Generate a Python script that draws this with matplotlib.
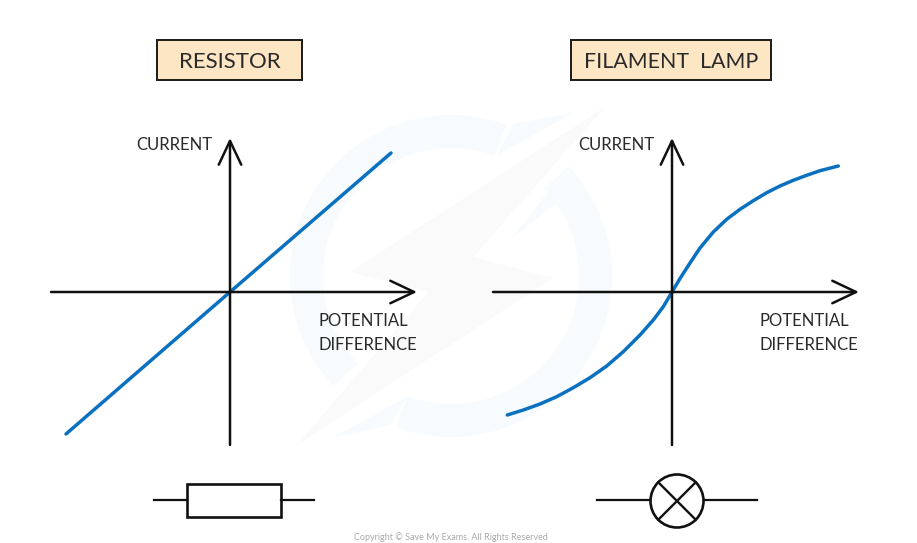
import numpy as np
import matplotlib
matplotlib.use("Agg")
import matplotlib.pyplot as plt
from matplotlib.patches import Rectangle, Circle, Polygon

plt.rcParams['font.family'] = ['Lato', 'DejaVu Sans']

W, H = 917, 543
titles = ["RESISTOR", "FILAMENT  LAMP"]
y_label = "CURRENT"
x_label = "POTENTIAL\nDIFFERENCE"
copyright_text = "Copyright © Save My Exams. All Rights Reserved"

resistor_v = [-164, 0, 161]
resistor_i = [-142, 0, 139]
lamp_v = [-164.7, -148.7, -132, -115.3, -98.7, -82, -65.3, -48.7, -32, -18.7, -8.7, 0,
          8, 18, 28, 41.3, 54.7, 68, 81.3, 94.7, 108, 121.3, 134.7, 148, 166.3]
lamp_i = [-123, -118, -112, -104.7, -95.7, -85.7, -74, -59.7, -43, -28, -14.7, 0,
          13.5, 29, 44, 60, 72.7, 82.7, 91.3, 99.3, 106, 111.7, 116.7, 121.3, 126]

BLUE = "#0a70c0"
INK = "#111111"
TXT = "#2a2a2a"

fig = plt.figure(figsize=(W/100, H/100), dpi=100, facecolor="white")

# page overlay in pixel coordinates: watermark, title boxes, circuit symbols
bg = fig.add_axes([0, 0, 1, 1], zorder=0)
bg.set_xlim(0, W); bg.set_ylim(H, 0); bg.axis("off")

ring = "#f7fbfd"
cx, cy = 451, 276
def arc(a0, a1):
    t = np.radians(np.linspace(a0, a1, 120))
    xo = cx + 161*np.cos(t); yo = cy - 161*np.sin(t)
    xi = cx + 128*np.cos(t[::-1]); yi = cy - 128*np.sin(t[::-1])
    return np.r_[xo, xi], np.r_[yo, yi]
x, y = arc(70, 223); bg.add_patch(Polygon(np.c_[x, y], fc=ring, ec="none"))
x, y = arc(250, 403); bg.add_patch(Polygon(np.c_[x, y], fc=ring, ec="none"))
bg.add_patch(Polygon([(497, 155), (573, 113), (513, 124)], fc=ring, ec="none"))
bg.add_patch(Polygon([(568, 167), (512, 238), (557, 203)], fc=ring, ec="none"))
bg.add_patch(Polygon([(390, 425), (332, 438), (407, 397)], fc=ring, ec="none"))
bg.add_patch(Polygon([(605, 107), (350, 272), (428, 292), (297, 445),
                      (553, 278), (473, 257)], fc="#fafafa", ec="none"))

for (x0, x1), t, fs in zip([(157, 302), (571, 771)], titles, [16.0, 15.4]):
    bg.add_patch(Rectangle((x0, 40), x1-x0, 40, fc="#fde6c4", ec="#1a1a1a", lw=1.4))
    bg.text((x0+x1)/2, 61.5, t, ha="center", va="center", fontsize=fs, color=TXT)

bg.plot([154, 187], [500, 500], color=INK, lw=1.6)
bg.plot([281, 314], [500, 500], color=INK, lw=1.6)
bg.add_patch(Rectangle((187, 484), 94, 33, fc="white", ec=INK, lw=1.9))
bg.plot([597, 650], [500, 500], color=INK, lw=1.6)
bg.plot([704, 757], [500, 500], color=INK, lw=1.6)
bg.add_patch(Circle((677, 501), 26.5, fc="white", ec=INK, lw=1.9))
d = 26.5*np.sqrt(0.5)
bg.plot([677-d, 677+d], [501-d, 501+d], color=INK, lw=1.7)
bg.plot([677-d, 677+d], [501+d, 501-d], color=INK, lw=1.7)
bg.text(451, 537.5, copyright_text, ha="center", va="center", fontsize=6.5, color="#aaaaaa")

# graphs: data units follow offsets from each origin
def graph(ox, oy, v, i):
    left, right, top, bottom = 179, 190, 156, 153
    ax = fig.add_axes([(ox-left)/W, 1-(oy+bottom)/H, (left+right)/W, (top+bottom)/H], zorder=1)
    ax.set_xlim(-left, right); ax.set_ylim(-bottom, top)
    ax.axis("off"); ax.patch.set_alpha(0)
    style = dict(arrowstyle="->,head_length=0.95,head_width=0.45", color=INK, lw=1.8,
                 shrinkA=0, shrinkB=0, mutation_scale=18)
    ax.annotate("", xy=(187, 0), xytext=(-179, 0), arrowprops=style)
    ax.annotate("", xy=(0, 154), xytext=(0, -153), arrowprops=style)
    ax.plot(v, i, color=BLUE, lw=2.5, solid_capstyle="round", solid_joinstyle="round")
    ax.text(-18, 147, y_label, ha="right", va="center", fontsize=12, color=TXT)
    ax.text(88, -41, x_label, ha="left", va="center", fontsize=12, color=TXT, linespacing=1.65)

graph(230, 292, resistor_v, resistor_i)
graph(672, 292, lamp_v, lamp_i)

fig.savefig("out.png", dpi=100)
